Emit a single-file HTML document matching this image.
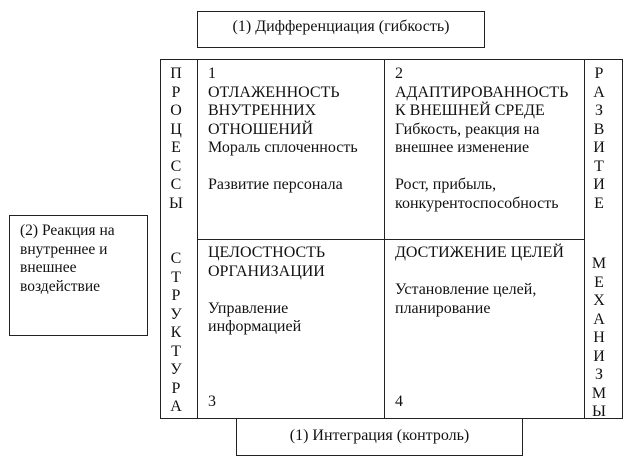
<!DOCTYPE html>
<html><head><meta charset="utf-8"><style>
body{margin:0;width:625px;height:461px;background:#fff;position:relative;overflow:hidden;font-family:"Liberation Serif","DejaVu Serif",serif;font-size:16px;color:#111}
.b{position:absolute;border:1px solid #222;box-sizing:border-box}
.l{position:absolute;border-left:1px solid #222}
.h{position:absolute;border-top:1px solid #222}
.t{position:absolute;line-height:18.5px;white-space:nowrap}
.c{text-align:center}
</style></head><body>
<div class="b" style="left:197px;top:11px;width:288px;height:37px"></div>
<div class="t c" style="left:197px;top:18px;width:288px">(1) Дифференциация (гибкость)</div>
<div class="b" style="left:160px;top:59px;width:463px;height:360px"></div>
<div class="l" style="left:197px;top:59px;height:360px"></div>
<div class="l" style="left:384px;top:59px;height:360px"></div>
<div class="l" style="left:584px;top:59px;height:360px"></div>
<div class="h" style="left:197px;top:239px;width:388px"></div>
<div class="b" style="left:9px;top:215px;width:139px;height:121px"></div>
<div class="t" style="left:20px;top:222px;font-size:15.5px">(2) Реакция на<br>внутреннее и<br>внешнее<br>воздействие</div>
<div class="b" style="left:236px;top:418px;width:287px;height:38px"></div>
<div class="t c" style="left:236px;top:427px;width:287px">(1) Интеграция (контроль)</div>
<div class="t c" style="left:163px;top:65px;width:26px">П<br>Р<br>О<br>Ц<br>Е<br>С<br>С<br>Ы</div>
<div class="t c" style="left:163px;top:250px;width:26px">С<br>Т<br>Р<br>У<br>К<br>Т<br>У<br>Р<br>А</div>
<div class="t c" style="left:586px;top:65px;width:26px">Р<br>А<br>З<br>В<br>И<br>Т<br>И<br>Е</div>
<div class="t c" style="left:586px;top:255px;width:26px">М<br>Е<br>Х<br>А<br>Н<br>И<br>З<br>М<br>Ы</div>
<div class="t" style="left:208px;top:65px">1<br>ОТЛАЖЕННОСТЬ<br>ВНУТРЕННИХ<br>ОТНОШЕНИЙ<br>Мораль сплоченность<br><br>Развитие персонала</div>
<div class="t" style="left:395px;top:65px">2<br>АДАПТИРОВАННОСТЬ<br>К ВНЕШНЕЙ СРЕДЕ<br>Гибкость, реакция на<br>внешнее изменение<br><br>Рост, прибыль,<br>конкурентоспособность</div>
<div class="t" style="left:208px;top:244px">ЦЕЛОСТНОСТЬ<br>ОРГАНИЗАЦИИ<br><br>Управление<br>информацией</div>
<div class="t" style="left:395px;top:244px">ДОСТИЖЕНИЕ ЦЕЛЕЙ<br><br>Установление целей,<br>планирование</div>
<div class="t" style="left:208px;top:393px">3</div>
<div class="t" style="left:395px;top:393px">4</div>
</body></html>
